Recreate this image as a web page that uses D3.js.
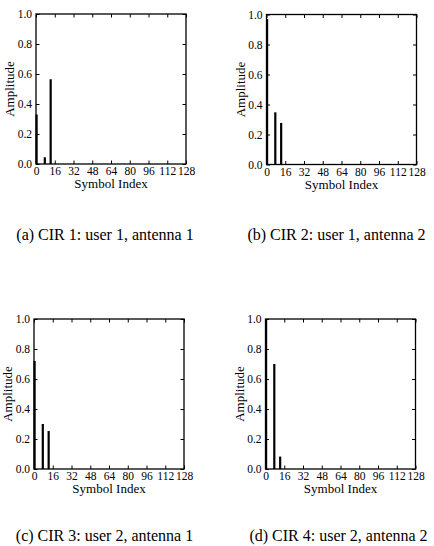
<html>
<head>
<meta charset="utf-8">
<script src="https://d3js.org/d3.v7.min.js"></script>
<style>
body{margin:0;background:#fff;}
text{font-family:"Liberation Serif","Times New Roman",serif;fill:#000;}
</style>
</head>
<body>
<script>
// tap positions (symbol index) and amplitudes for each CIR
var captions = ["(a) CIR 1: user 1, antenna 1", "(b) CIR 2: user 1, antenna 2",
                "(c) CIR 3: user 2, antenna 1", "(d) CIR 4: user 2, antenna 2"];
var taps = [0, 7, 12];
var cir1 = [0.33, 0.045, 0.565];
var cir2 = [0.97, 0.348, 0.277];
var cir3 = [0.72, 0.30, 0.253];
var cir4 = [1.0, 0.70, 0.083];
var xTicks = [0, 16, 32, 48, 64, 80, 96, 112, 128];
var yTicks = [0, 0.2, 0.4, 0.6, 0.8, 1.0];

var W = 434, H = 546;
var pw = 150, ph = 150;
// panel placement: left, top, caption center x, caption baseline
var panels = [
  {vals: cir1, l: 36, t: 14, cx: 105, cy: 240},
  {vals: cir2, l: 266.5, t: 14.5, cx: 336.5, cy: 240},
  {vals: cir3, l: 34, t: 319, cx: 104.5, cy: 541},
  {vals: cir4, l: 265.5, t: 319, cx: 338.5, cy: 541}
];

var svg = d3.select("body").append("svg").attr("width", W).attr("height", H);

panels.forEach(function(p, k){
  var x = d3.scaleLinear().domain([0, 128]).range([0, pw]);
  var y = d3.scaleLinear().domain([0, 1]).range([ph, 0]);
  var g = svg.append("g").attr("transform", "translate(" + p.l + "," + p.t + ")");

  // bars
  g.selectAll("rect.bar").data(taps).enter().append("rect")
    .attr("class", "bar")
    .attr("x", function(d){ return x(d) - 0.5; })
    .attr("width", 2.2)
    .attr("y", function(d, i){ return y(p.vals[i]); })
    .attr("height", function(d, i){ return ph - y(p.vals[i]); })
    .attr("fill", "#000");

  // axes, ticks pointing inward on all sides
  var xb = g.append("g").attr("transform", "translate(0," + ph + ")")
    .call(d3.axisBottom(x).tickValues(xTicks).tickSize(-3.5).tickSizeOuter(0).tickPadding(3).tickFormat(d3.format("d")));
  var xt = g.append("g")
    .call(d3.axisTop(x).tickValues(xTicks).tickSize(-3.5).tickSizeOuter(0).tickFormat(""));
  var yl = g.append("g")
    .call(d3.axisLeft(y).tickValues(yTicks).tickSize(-3.5).tickSizeOuter(0).tickPadding(4).tickFormat(d3.format(".1f")));
  var yr = g.append("g").attr("transform", "translate(" + pw + ",0)")
    .call(d3.axisRight(y).tickValues(yTicks).tickSize(-3.5).tickSizeOuter(0).tickFormat(""));
  [xb, xt, yl, yr].forEach(function(a){
    a.attr("font-family", null);
    a.select(".domain").remove();
    a.selectAll("line").attr("stroke", "#000").attr("stroke-width", 1);
    a.selectAll("text").style("font-size", "11.5px");
  });

  // frame
  g.append("rect").attr("width", pw).attr("height", ph)
    .attr("fill", "none").attr("stroke", "#000").attr("stroke-width", 1.3);

  g.append("text").attr("x", pw / 2).attr("y", ph + 24)
    .attr("text-anchor", "middle").style("font-size", "13px").text("Symbol Index");
  g.append("text").attr("transform", "translate(-22," + (ph / 2) + ") rotate(-90)")
    .attr("text-anchor", "middle").style("font-size", "13px").text("Amplitude");

  svg.append("text").attr("x", p.cx).attr("y", p.cy)
    .attr("text-anchor", "middle").style("font-size", "16px").text(captions[k]);
});
</script>
</body>
</html>
